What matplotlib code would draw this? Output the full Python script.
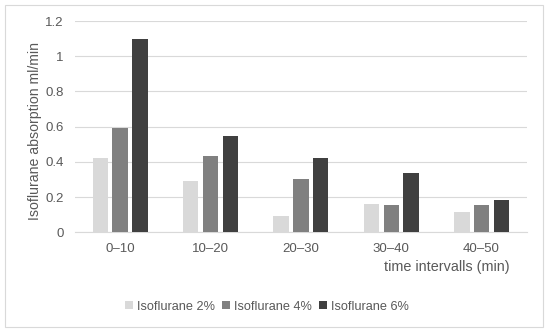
import matplotlib

matplotlib.use("Agg")
import matplotlib.pyplot as plt
import numpy as np
from matplotlib.patches import Rectangle
from matplotlib.ticker import FuncFormatter

categories = ["0–10", "10–20", "20–30", "30–40", "40–50"]
series_names = ["Isoflurane 2%", "Isoflurane 4%", "Isoflurane 6%"]
iso_2 = [0.42, 0.29, 0.09, 0.16, 0.115]
iso_4 = [0.59, 0.435, 0.305, 0.155, 0.157]
iso_6 = [1.095, 0.547, 0.42, 0.338, 0.183]
colors = ["#d9d9d9", "#808080", "#404040"]

plt.rcParams["font.family"] = ["Liberation Sans", "DejaVu Sans"]

fig = plt.figure(figsize=(5.5, 3.34), dpi=100)
fig.patches.append(
    Rectangle((5 / 550, 1 - 327 / 334), 538 / 550, 322 / 334, transform=fig.transFigure,
              fill=False, edgecolor="#d9d9d9", linewidth=0.8)
)
ax = fig.add_axes([75 / 550, 1 - 232.3 / 334, 451.7 / 550, 211.3 / 334])

x = np.arange(len(categories))
width = 0.17
step = 0.218
for idx, (values, name, color) in enumerate(zip([iso_2, iso_4, iso_6], series_names, colors)):
    ax.bar(x + (idx - 1) * step, values, width=width, color=color, label=name, zorder=3)

ax.set_xlim(-0.5, len(categories) - 0.5)
ax.set_ylim(0, 1.2)
ax.set_yticks(np.arange(0, 1.21, 0.2))
ax.yaxis.set_major_formatter(FuncFormatter(lambda v, _: f"{v:g}"))
ax.set_xticks(x)
ax.set_xticklabels(categories)
ax.tick_params(axis="both", length=0, labelsize=9.5, colors="#595959", pad=8)
ax.grid(axis="y", color="#d9d9d9", linewidth=0.8, zorder=0)
for side in ["top", "right", "left"]:
    ax.spines[side].set_visible(False)
ax.spines["bottom"].set_color("#d9d9d9")
ax.spines["bottom"].set_linewidth(0.8)

fig.text(35 / 550, 1 - 131 / 334, "Isoflurane absorption ml/min", rotation=90, ha="center", va="center",
         fontsize=10.2, color="#595959")
fig.text(510 / 550, 1 - 267.5 / 334, "time intervalls (min)", ha="right", va="center",
         fontsize=10.4, color="#595959")

fig.legend(loc="center", bbox_to_anchor=(267 / 550, 1 - 306.5 / 334), ncol=3, frameon=False,
           fontsize=9.2, labelcolor="#595959", handlelength=0.6, handleheight=0.6,
           handletextpad=0.3, columnspacing=0.6)

fig.savefig("out.png")
